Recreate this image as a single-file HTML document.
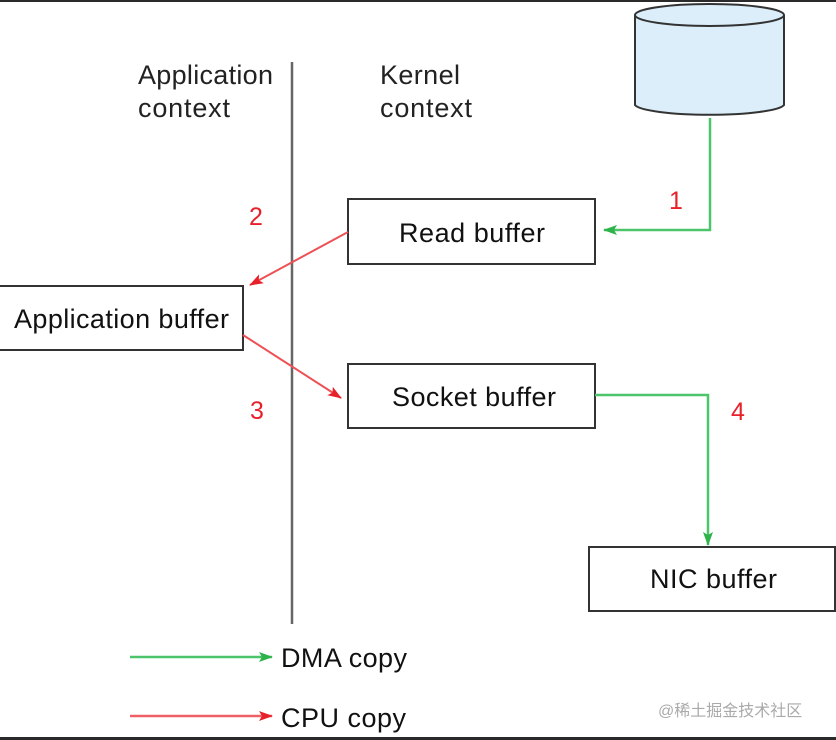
<!DOCTYPE html>
<html><head><style>
body{margin:0;background:#fff}
svg{display:block;font-family:"Liberation Sans",Arial,sans-serif}
</style></head><body>
<svg width="836" height="740" viewBox="0 0 836 740">
<defs>
<marker id="g" markerWidth="14" markerHeight="10" refX="13" refY="5" orient="auto" markerUnits="userSpaceOnUse"><path d="M0,0L14,5L0,10L3,5z" fill="#2db34a"/></marker>
<marker id="r" markerWidth="14" markerHeight="10" refX="13" refY="5" orient="auto" markerUnits="userSpaceOnUse"><path d="M0,0L14,5L0,10L3,5z" fill="#e8202a"/></marker>
</defs>
<rect x="0" y="0" width="836" height="2" fill="#2a2a2a"/>
<rect x="0" y="737" width="836" height="3" fill="#2a2a2a"/>
<path d="M635,15 L635,105 A75,11 0 0 0 784,105 L784,15" fill="#dbeefa" stroke="#333" stroke-width="2"/>
<ellipse cx="709.5" cy="15" rx="74.5" ry="11" fill="#dbeefa" stroke="#333" stroke-width="2"/>
<line x1="292" y1="62" x2="292" y2="624" stroke="#666" stroke-width="2.5"/>
<g font-size="27" fill="#222">
<text x="138" y="84" textLength="135">Application</text>
<text x="138" y="117" textLength="92">context</text>
<text x="380" y="84" textLength="80">Kernel</text>
<text x="380" y="117" textLength="92">context</text>
</g>
<rect x="348" y="199" width="247" height="65" fill="#fff" stroke="#333" stroke-width="2"/>
<text x="399" y="242" font-size="27" fill="#111" textLength="146">Read buffer</text>
<rect x="-2" y="286" width="245" height="64" fill="#fff" stroke="#333" stroke-width="2"/>
<text x="14" y="328" font-size="27" fill="#111" textLength="215">Application buffer</text>
<rect x="348" y="364" width="247" height="64" fill="#fff" stroke="#333" stroke-width="2"/>
<text x="392" y="406" font-size="27" fill="#111" textLength="164">Socket buffer</text>
<rect x="589" y="547" width="246" height="64" fill="#fff" stroke="#333" stroke-width="2"/>
<text x="650" y="588" font-size="27" fill="#111" textLength="127">NIC buffer</text>
<polyline points="710,118 710,230 604,230" fill="none" stroke="#4cc46a" stroke-width="2.5" marker-end="url(#g)"/>
<line x1="348" y1="232" x2="250" y2="285" stroke="#ee5055" stroke-width="2" marker-end="url(#r)"/>
<line x1="243" y1="335" x2="341" y2="398" stroke="#ee5055" stroke-width="2" marker-end="url(#r)"/>
<polyline points="595,395 708,395 708,545" fill="none" stroke="#4cc46a" stroke-width="2.5" marker-end="url(#g)"/>
<g font-size="25" text-anchor="middle" fill="#e8202a">
<text x="676" y="209">1</text>
<text x="256" y="225">2</text>
<text x="257" y="419">3</text>
<text x="738" y="420">4</text>
</g>
<line x1="130" y1="657" x2="272" y2="657" stroke="#4cc46a" stroke-width="2.5" marker-end="url(#g)"/>
<text x="281" y="667" font-size="27" fill="#111" textLength="126">DMA copy</text>
<line x1="130" y1="716" x2="272" y2="716" stroke="#ee6066" stroke-width="2.5" marker-end="url(#r)"/>
<text x="281" y="727" font-size="27" fill="#111" textLength="125">CPU copy</text>
<text x="658" y="716" font-size="16" fill="#aaa" font-family="'Liberation Sans','Noto Sans CJK SC',sans-serif">@稀土掘金技术社区</text>
</svg>
</body></html>
